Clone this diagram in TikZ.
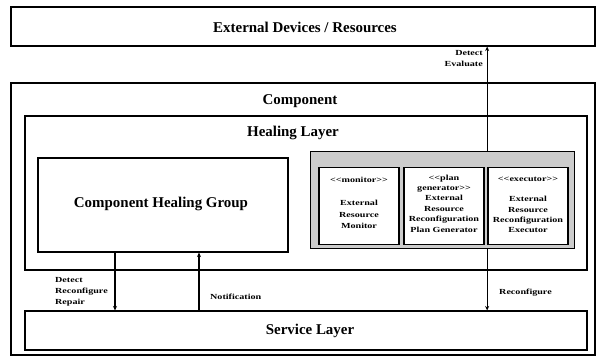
\documentclass[tikz,border=0pt]{standalone}
\usepackage{fontspec}
\setmainfont{Liberation Serif}
\newfontfamily\narrowserif[FakeStretch=1.3]{Liberation Serif}
\usetikzlibrary{arrows.meta}

\tikzset{
  frame/.style={draw, line width=1.1pt, inner sep=0pt},
  heading/.style={font=\fontsize{15}{17}\selectfont\bfseries, inner sep=0pt},
  rolebox/.style={draw, line width=1.7pt, fill=white, minimum width=80bp, minimum height=77bp, inner sep=0pt},
  roletext/.style={font=\narrowserif\fontsize{7.8}{10.4}\selectfont\bfseries, align=center, inner sep=0pt, anchor=north},
  tag/.style={font=\narrowserif\fontsize{7.8}{11}\selectfont\bfseries, inner sep=0pt},
  flow/.style={line width=1.1pt, -{Stealth[length=4.5pt,width=4pt]}},
}

\begin{document}
\begin{tikzpicture}[x=1bp,y=-1bp]
  \useasboundingbox (0,0) rectangle (602,360);
  \fill[white] (0,0) rectangle (602,360);

  % outer frames
  \node[frame, minimum width=584bp, minimum height=39bp] (ext) at (303,26.5) {};
  \node[heading] (exttitle) at (305,27) {External Devices / Resources};

  \node[frame, minimum width=584bp, minimum height=272bp] (comp) at (303,219) {};
  \node[heading] (comptitle) at (300,101) {Component};

  \node[frame, minimum width=562bp, minimum height=154bp] (heal) at (306,193) {};
  \node[heading] (healtitle) at (293,133) {Healing Layer};

  \node[frame, minimum width=250bp, minimum height=94bp] (chg) at (163,205) {};
  \node[heading] (chgtitle) at (161,204) {Component Healing Group};

  \node[frame, minimum width=562bp, minimum height=39bp] (svc) at (306,330.5) {};
  \node[heading] (svctitle) at (310,331) {Service Layer};

  % adaptation loop group
  \node[draw, line width=0.8pt, fill=black!20, minimum width=264bp, minimum height=97bp, inner sep=0pt] (loop) at (442,199.5) {};

  \node[rolebox] (mon) at (359,206) {};
  \node[rolebox] (plan) at (444,206) {};
  \node[rolebox] (exec) at (528,206) {};

  \node[roletext] (montext) at ([yshift=-10bp]mon.north)
    {{<}{<}monitor{>}{>}\\[13pt]External\\[1.2pt]Resource\\[1.2pt]Monitor};
  \node[roletext] (plantext) at ([yshift=-8bp]plan.north)
    {{<}{<}plan\\generator{>}{>}\\External\\Resource\\Reconfiguration\\Plan Generator};
  \node[roletext] (exectext) at ([yshift=-10bp]exec.north)
    {{<}{<}executor{>}{>}\\[10pt]External\\Resource\\Reconfiguration\\Executor};

  % connectors
  \draw[flow] (loop.north -| exec.west) -- (ext.south -| exec.west);
  \draw[flow] (loop.south -| exec.west) -- (svc.north -| exec.west);
  \draw[flow] ([xshift=-48bp]chg.south) -- ([xshift=-48bp]chg.south |- svc.north);
  \draw[flow] ([xshift=36bp]chg.south |- svc.north) -- ([xshift=36bp]chg.south);

  % connector labels
  \node[tag, align=right, anchor=north east] (lblup) at (483,50) {Detect\\Evaluate};
  \node[tag, align=left, anchor=north west] (lbldown) at (55,277) {Detect\\Reconfigure\\Repair};
  \node[tag, anchor=west] (lblnote) at (210,297) {Notification};
  \node[tag, anchor=west] (lblreconf) at (499,293) {Reconfigure};
\end{tikzpicture}
\end{document}
